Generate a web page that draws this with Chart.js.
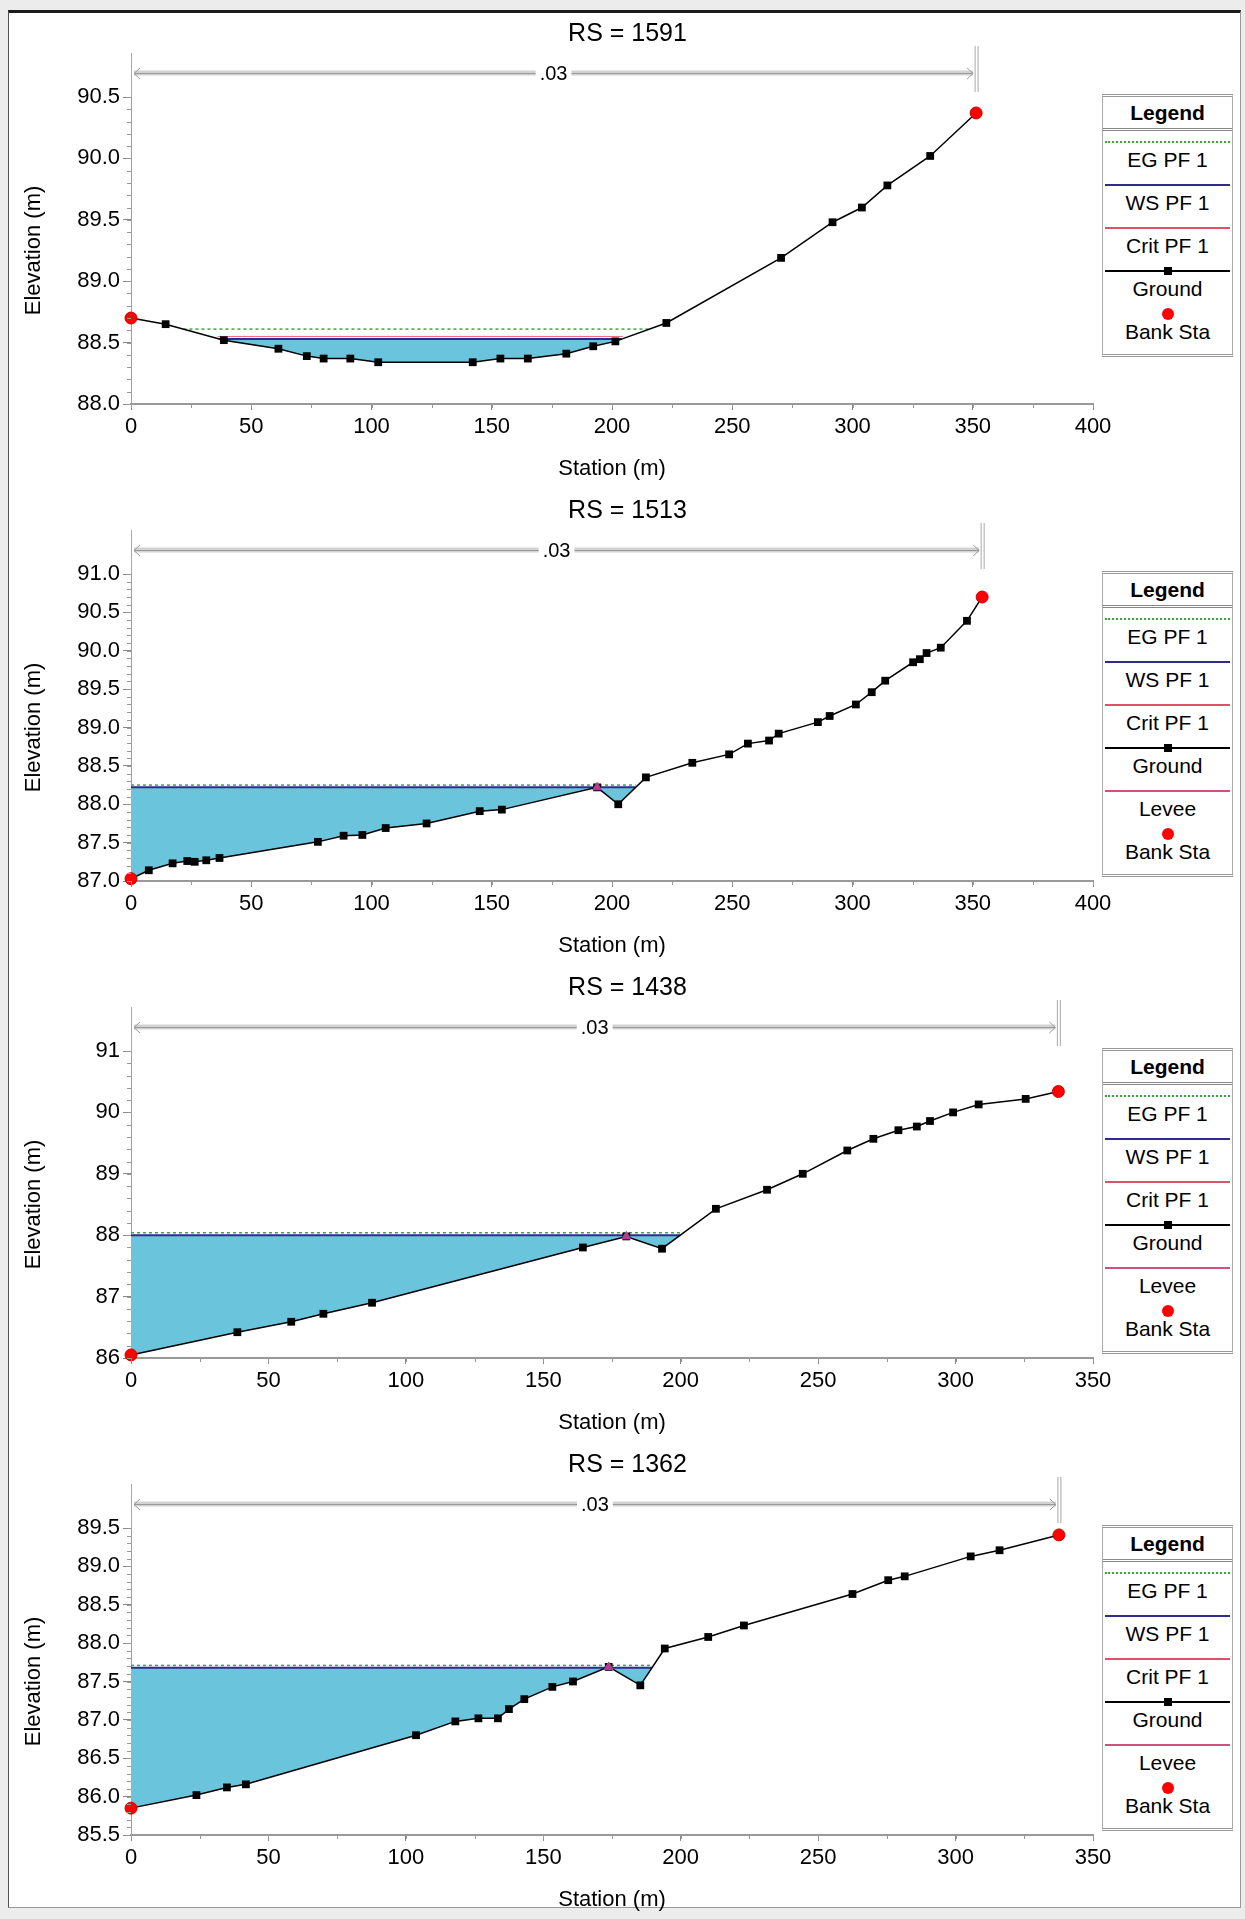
<!DOCTYPE html>
<html>
<head>
<meta charset="utf-8">
<title>Cross Sections</title>
<script src="https://cdn.jsdelivr.net/npm/chart.js@4.4.0/dist/chart.umd.min.js"></script>
<style>
    body { margin: 0; background: #ececec; font-family: 'Liberation Sans', Arial, sans-serif; }
    #page { position: relative; width: 1245px; height: 1919px; overflow: hidden; }
    #frame { position: absolute; left: 8px; top: 10px; width: 1231px; height: 1894px; background: #fff;
             border-top: 3px solid #1a1a1a; border-left: 1px solid #555; border-right: 1px solid #999; border-bottom: 1px solid #999; }
    .panel { position: absolute; left: 0; width: 1245px; height: 490px; }
    .panel canvas { position: absolute; left: 0; top: 0; }
    .legend { position: absolute; left: 1102px; top: 94px; width: 129px; background: #fff;
              border: 1px solid #aaa; border-top: 3px double #999; border-bottom: 3px double #999; padding-bottom: 8px; }
    .lg-head { height: 31px; line-height: 31px; text-align: center; font-weight: bold; font-size: 21px; border-bottom: 3px double #888; }
    .lg-item { position: relative; height: 43px; }
    .lg-line { position: absolute; left: 2px; right: 2px; top: 10px; height: 0; }
    .lg-square { position: absolute; left: 50%; top: 7px; width: 8px; height: 8px; margin-left: -4px; background: #000; }
    .lg-dot { position: absolute; left: 50%; top: 5px; width: 12px; height: 12px; margin-left: -6px; border-radius: 50%; background: #f00; }
    .lg-text { position: absolute; left: 0; right: 0; top: 18px; line-height: 22px; text-align: center; font-size: 21px; color: #000; }
</style>
</head>
<body>
<div id="page">
    <div id="frame"></div>
</div>
<script>
const FONT = "'Liberation Sans', Arial, sans-serif";
const WATER = '#6ac4dc';

const rsNames = ['1591', '1513', '1438', '1362'];
const nValues = ['.03', '.03', '.03', '.03'];

// RS = 1591
const groundSta1 = [0, 14.4, 38.6, 61.3, 73.1, 80.1, 91.2, 102.8, 142.1, 153.6, 165, 181, 192.2, 201.4, 222.6, 270.3, 291.7, 303.9, 314.5, 332.3, 351.4];
const groundElev1 = [88.70, 88.65, 88.52, 88.45, 88.39, 88.37, 88.37, 88.34, 88.34, 88.37, 88.37, 88.41, 88.47, 88.51, 88.66, 89.19, 89.48, 89.60, 89.78, 90.02, 90.37];
const bankSta1 = [0, 351.4];
const bankElev1 = [88.70, 90.37];
const wsSta1 = [36.5, 204.0];
const wsElev1 = [88.53, 88.53];
const egSta1 = [21.8, 215.5];
const egElev1 = [88.61, 88.61];
const critSta1 = [36, 204.5];
const critElev1 = [88.55, 88.55];
const leveeSta1 = [];
const leveeElev1 = [];

// RS = 1513
const groundSta2 = [0, 7.4, 17.3, 23.4, 26.5, 31.3, 36.8, 77.7, 88.4, 96.2, 105.9, 122.9, 145.0, 154.2, 193.8, 202.6, 214.1, 233.4, 248.7, 256.5, 265.3, 269.3, 285.6, 290.5, 301.4, 308.0, 313.6, 325.2, 328.0, 330.8, 336.7, 347.6, 353.9];
const groundElev2 = [87.03, 87.14, 87.23, 87.26, 87.25, 87.27, 87.30, 87.51, 87.59, 87.60, 87.69, 87.75, 87.91, 87.93, 88.22, 88.00, 88.35, 88.54, 88.65, 88.79, 88.83, 88.92, 89.07, 89.15, 89.30, 89.46, 89.61, 89.85, 89.89, 89.97, 90.04, 90.39, 90.70];
const bankSta2 = [0, 353.9];
const bankElev2 = [87.03, 90.70];
const wsSta2 = [0, 209.8];
const wsElev2 = [88.22, 88.22];
const egSta2 = [0, 209.8];
const egElev2 = [88.25, 88.25];
const critSta2 = [];
const critElev2 = [];
const leveeSta2 = [193.8];
const leveeElev2 = [88.22];

// RS = 1438
const groundSta3 = [0, 38.7, 58.3, 70.0, 87.7, 164.4, 180.2, 193.2, 212.8, 231.4, 244.4, 260.6, 270.1, 279.2, 285.9, 290.7, 299.1, 308.4, 325.5, 337.4];
const groundElev3 = [86.05, 86.42, 86.59, 86.72, 86.90, 87.80, 87.98, 87.78, 88.43, 88.74, 89.00, 89.38, 89.57, 89.71, 89.77, 89.86, 90.00, 90.13, 90.22, 90.34];
const bankSta3 = [0, 337.4];
const bankElev3 = [86.05, 90.34];
const wsSta3 = [0, 199.8];
const wsElev3 = [88.00, 88.00];
const egSta3 = [0, 199.8];
const egElev3 = [88.04, 88.04];
const critSta3 = [];
const critElev3 = [];
const leveeSta3 = [180.2];
const leveeElev3 = [87.98];

// RS = 1362
const groundSta4 = [0, 23.8, 34.9, 41.8, 103.7, 118.0, 126.4, 133.5, 137.5, 143.1, 153.3, 160.8, 173.8, 185.3, 194.2, 210.0, 223.0, 262.5, 275.5, 281.5, 305.5, 316.0, 337.6];
const groundElev4 = [85.85, 86.02, 86.12, 86.16, 86.80, 86.98, 87.02, 87.02, 87.14, 87.27, 87.43, 87.50, 87.69, 87.45, 87.93, 88.08, 88.23, 88.64, 88.82, 88.87, 89.13, 89.21, 89.41];
const bankSta4 = [0, 337.6];
const bankElev4 = [85.85, 89.41];
const wsSta4 = [0, 189.5];
const wsElev4 = [87.68, 87.68];
const egSta4 = [0, 189.5];
const egElev4 = [87.71, 87.71];
const critSta4 = [];
const critElev4 = [];
const leveeSta4 = [173.8];
const leveeElev4 = [87.69];

// axis ticks
const xTicks400 = [0, 50, 100, 150, 200, 250, 300, 350, 400];
const xTicks350 = [0, 50, 100, 150, 200, 250, 300, 350];
const yTicks1 = [88.0, 88.5, 89.0, 89.5, 90.0, 90.5];
const yTicks2 = [87.0, 87.5, 88.0, 88.5, 89.0, 89.5, 90.0, 90.5, 91.0];
const yTicks3 = [86, 87, 88, 89, 90, 91];
const yTicks4 = [85.5, 86.0, 86.5, 87.0, 87.5, 88.0, 88.5, 89.0, 89.5];
const yDecimals = [1, 1, 0, 1];
const yMinorStep = [0.1, 0.1, 0.2, 0.1];

const legendItems1 = ['EG PF 1', 'WS PF 1', 'Crit PF 1', 'Ground', 'Bank Sta'];
const legendItemsLevee = ['EG PF 1', 'WS PF 1', 'Crit PF 1', 'Ground', 'Levee', 'Bank Sta'];

const sections = [
    { ground: [groundSta1, groundElev1], bank: [bankSta1, bankElev1], ws: [wsSta1, wsElev1], eg: [egSta1, egElev1], crit: [critSta1, critElev1], levee: [leveeSta1, leveeElev1], xTicks: xTicks400, yTicks: yTicks1, legend: legendItems1 },
    { ground: [groundSta2, groundElev2], bank: [bankSta2, bankElev2], ws: [wsSta2, wsElev2], eg: [egSta2, egElev2], crit: [critSta2, critElev2], levee: [leveeSta2, leveeElev2], xTicks: xTicks400, yTicks: yTicks2, legend: legendItemsLevee },
    { ground: [groundSta3, groundElev3], bank: [bankSta3, bankElev3], ws: [wsSta3, wsElev3], eg: [egSta3, egElev3], crit: [critSta3, critElev3], levee: [leveeSta3, leveeElev3], xTicks: xTicks350, yTicks: yTicks3, legend: legendItemsLevee },
    { ground: [groundSta4, groundElev4], bank: [bankSta4, bankElev4], ws: [wsSta4, wsElev4], eg: [egSta4, egElev4], crit: [critSta4, critElev4], levee: [leveeSta4, leveeElev4], xTicks: xTicks350, yTicks: yTicks4, legend: legendItemsLevee }
];

const legendStyle = {
    'EG PF 1': { line: '2px dotted #3aa83a' },
    'WS PF 1': { line: '2px solid #2c2c90' },
    'Crit PF 1': { line: '2px solid #e0506a' },
    'Ground': { line: '2px solid #000', marker: 'square' },
    'Levee': { line: '2px solid #d0507e' },
    'Bank Sta': { marker: 'dot' }
};

const toPoints = ([sta, elev]) => sta.map((s, i) => ({ x: s, y: elev[i] }));

// n-value bar across the top of the plot, ends at the bank stations
const nBarPlugin = {
    id: 'nBar',
    afterDraw(chart, args, opts) {
        const { ctx, chartArea, scales } = chart;
        const x0 = scales.x.getPixelForValue(opts.from);
        const x1 = scales.x.getPixelForValue(opts.to);
        const y = chartArea.top - 24;
        ctx.save();
        ctx.strokeStyle = '#a8a8a8';
        ctx.lineWidth = 1;
        ctx.beginPath();
        ctx.moveTo(x0 + 0.5, chartArea.top - 44);
        ctx.lineTo(x0 + 0.5, chartArea.top);
        ctx.moveTo(x1 - 1, chartArea.top - 51);
        ctx.lineTo(x1 - 1, chartArea.top - 5);
        ctx.moveTo(x1 + 2, chartArea.top - 51);
        ctx.lineTo(x1 + 2, chartArea.top - 5);
        ctx.stroke();

        ctx.strokeStyle = '#d2d2d2';
        ctx.lineWidth = 5;
        ctx.beginPath();
        ctx.moveTo(x0 + 3, y);
        ctx.lineTo(x1 - 3, y);
        ctx.stroke();
        ctx.strokeStyle = '#999';
        ctx.lineWidth = 1;
        ctx.beginPath();
        ctx.moveTo(x0 + 3, y + 0.5);
        ctx.lineTo(x1 - 3, y + 0.5);
        // arrow heads
        ctx.moveTo(x0 + 9, y - 5);
        ctx.lineTo(x0 + 3, y + 0.5);
        ctx.lineTo(x0 + 9, y + 6);
        ctx.moveTo(x1 - 9, y - 5);
        ctx.lineTo(x1 - 3, y + 0.5);
        ctx.lineTo(x1 - 9, y + 6);
        ctx.stroke();

        ctx.font = `20px ${FONT}`;
        const xm = (x0 + x1) / 2;
        const w = ctx.measureText(opts.label).width;
        ctx.fillStyle = '#fff';
        ctx.fillRect(xm - w / 2 - 4, y - 11, w + 8, 22);
        ctx.fillStyle = '#000';
        ctx.textAlign = 'center';
        ctx.textBaseline = 'middle';
        ctx.fillText(opts.label, xm, y + 1);
        ctx.restore();
    }
};

const minorTickPlugin = {
    id: 'minorTicks',
    afterDraw(chart, args, opts) {
        const { ctx, chartArea, scales: { x, y } } = chart;
        ctx.save();
        ctx.strokeStyle = '#999';
        ctx.lineWidth = 1;
        ctx.beginPath();
        const nx = Math.round((x.max - x.min) / opts.x);
        for (let i = 0; i <= nx; i++) {
            const px = Math.round(x.getPixelForValue(x.min + i * opts.x)) + 0.5;
            ctx.moveTo(px, chartArea.bottom);
            ctx.lineTo(px, chartArea.bottom + 4);
        }
        const ny = Math.round((y.max - y.min) / opts.y);
        for (let i = 0; i <= ny; i++) {
            const py = Math.round(y.getPixelForValue(y.min + i * opts.y)) + 0.5;
            ctx.moveTo(chartArea.left - 4, py);
            ctx.lineTo(chartArea.left, py);
        }
        ctx.stroke();
        ctx.restore();
    }
};

const buildLegend = (host, items) => {
    const box = document.createElement('div');
    box.className = 'legend';
    box.innerHTML = `<div class="lg-head">Legend</div>` + items.map(name => {
        const st = legendStyle[name];
        const line = st.line ? `<div class="lg-line" style="border-top:${st.line}"></div>` : '';
        const mark = st.marker ? `<div class="lg-${st.marker}"></div>` : '';
        return `<div class="lg-item">${line}${mark}<div class="lg-text">${name}</div></div>`;
    }).join('');
    host.appendChild(box);
};

const makeChart = (canvas, s, i) => {
    const tickFont = { family: FONT, size: 22 };
    return new Chart(canvas.getContext('2d'), {
        type: 'line',
        data: {
            datasets: [
                { label: 'Bank Sta', data: toPoints(s.bank), showLine: false, clip: false,
                  pointStyle: 'circle', pointRadius: 6, pointBackgroundColor: '#ff0000', pointBorderColor: '#d00000', pointBorderWidth: 1 },
                { label: 'Levee', data: toPoints(s.levee), showLine: false, clip: false,
                  pointStyle: 'triangle', pointRadius: 5, pointBackgroundColor: '#b04090', pointBorderColor: '#b04090' },
                { label: 'Ground', data: toPoints(s.ground), borderColor: '#000', borderWidth: 1.5, clip: false,
                  pointStyle: 'rect', pointRadius: 5.5, pointBackgroundColor: '#000', pointBorderWidth: 0 },
                { label: 'EG PF 1', data: toPoints(s.eg), borderColor: '#3aa83a', borderWidth: 1.5, borderDash: [3, 3], pointRadius: 0 },
                { label: 'Crit PF 1', data: toPoints(s.crit), borderColor: '#e86a80', borderWidth: 1, pointRadius: 0 },
                { label: 'WS PF 1', data: toPoints(s.ws), borderColor: '#2c2c90', borderWidth: 2, pointRadius: 0,
                  backgroundColor: WATER, fill: { target: 2, above: WATER, below: 'rgba(0,0,0,0)' } }
            ]
        },
        options: {
            responsive: false,
            animation: false,
            layout: { padding: { left: 10, right: 0, top: 0, bottom: 0 } },
            plugins: {
                legend: { display: false },
                tooltip: { enabled: false },
                title: {
                    display: true,
                    text: `RS = ${rsNames[i]}`,
                    color: '#000',
                    font: { family: FONT, size: 25, weight: 'normal' },
                    padding: { top: 19, bottom: 48 }
                },
                nBar: { from: s.bank[0][0], to: s.bank[0][s.bank[0].length - 1], label: nValues[i] },
                minorTicks: { x: 25, y: yMinorStep[i] }
            },
            scales: {
                x: {
                    type: 'linear',
                    min: s.xTicks[0],
                    max: s.xTicks[s.xTicks.length - 1],
                    afterBuildTicks: (sc) => { sc.ticks = s.xTicks.map(v => ({ value: v })); },
                    afterFit: (sc) => { sc.height = 86; },
                    grid: { display: true, drawOnChartArea: false, tickLength: 6, color: '#888' },
                    border: { color: '#999', width: 2 },
                    ticks: { color: '#000', font: tickFont, padding: 4, maxRotation: 0, autoSkip: false, callback: (v) => String(v) },
                    title: { display: true, text: 'Station (m)', color: '#000', font: tickFont, padding: { top: 0, bottom: 8 } }
                },
                y: {
                    type: 'linear',
                    min: s.yTicks[0],
                    max: s.yTicks[s.yTicks.length - 1],
                    afterBuildTicks: (sc) => { sc.ticks = s.yTicks.map(v => ({ value: v })); },
                    afterFit: (sc) => { sc.width = 121; },
                    grid: { display: true, drawOnChartArea: false, tickLength: 8, color: '#888' },
                    border: { color: '#a0a0a0', width: 1 },
                    ticks: { color: '#000', font: tickFont, padding: 3, autoSkip: false, callback: (v) => Number(v).toFixed(yDecimals[i]) },
                    title: { display: true, text: 'Elevation (m)', color: '#000', font: tickFont, padding: { top: 11, bottom: 0 } }
                },
                // empty right strip that leaves room for the legend box
                yr: {
                    position: 'right',
                    display: true,
                    grid: { display: false, drawTicks: false },
                    border: { display: false },
                    ticks: { display: false },
                    afterFit: (sc) => { sc.width = 152; }
                }
            }
        },
        plugins: [nBarPlugin, minorTickPlugin]
    });
};

document.addEventListener('DOMContentLoaded', () => {
    const page = document.getElementById('page');
    sections.forEach((s, i) => {
        const panel = document.createElement('div');
        panel.className = 'panel';
        panel.style.top = `${477 * i}px`;
        const canvas = document.createElement('canvas');
        canvas.width = 1245;
        canvas.height = 490;
        panel.appendChild(canvas);
        page.appendChild(panel);
        buildLegend(panel, s.legend);
        makeChart(canvas, s, i);
    });
});
</script>
</body>
</html>
